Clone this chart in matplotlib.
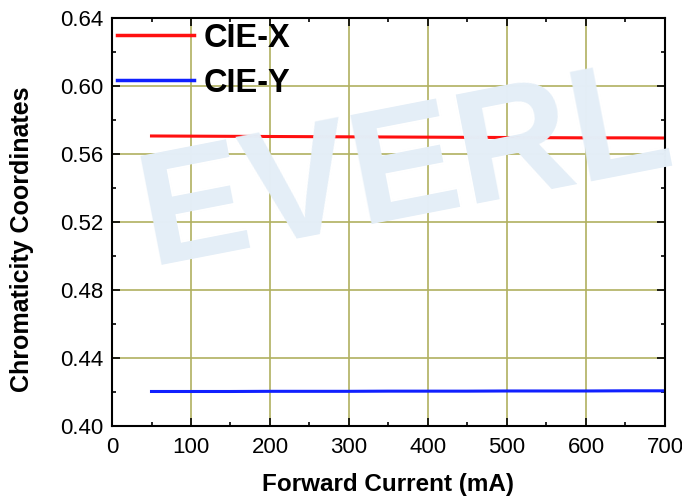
import matplotlib
matplotlib.use('Agg')
import matplotlib.pyplot as plt
from matplotlib.ticker import MultipleLocator

plt.rcParams['font.family'] = ['Liberation Sans', 'DejaVu Sans']

current = [50, 100, 150, 200, 250, 300, 350, 400, 450, 500, 550, 600, 650, 700]
cie_x = [0.5706, 0.5705, 0.5704, 0.5703, 0.5702, 0.5701, 0.5700, 0.5699, 0.5698, 0.5697, 0.5696, 0.5695, 0.5695, 0.5694]
cie_y = [0.4203, 0.4203, 0.4203, 0.4204, 0.4204, 0.4204, 0.4205, 0.4205, 0.4205, 0.4206, 0.4206, 0.4206, 0.4207, 0.4207]

fig = plt.figure(figsize=(6.82, 5), dpi=100)
ax = fig.add_axes([112 / 682, 74 / 500, 553 / 682, 408 / 500])

# watermark (cut by the right edge, like the original)
fig.text(150 / 682, 1 - 265 / 500, 'EVERL', fontsize=116, fontweight='bold', color='#e4eef7',
         rotation=11, rotation_mode='anchor', ha='left', va='baseline', zorder=0)
ax.set_facecolor('none')

ax.plot(current, cie_x, color='#ff1010', linewidth=2.2, label='CIE-X')
ax.plot(current, cie_y, color='#1020ff', linewidth=2.2, label='CIE-Y')

ax.set_xlim(0, 700)
ax.set_ylim(0.40, 0.64)
ax.xaxis.set_major_locator(MultipleLocator(100))
ax.xaxis.set_minor_locator(MultipleLocator(50))
ax.yaxis.set_major_locator(MultipleLocator(0.04))
ax.yaxis.set_minor_locator(MultipleLocator(0.02))
ax.yaxis.set_major_formatter(plt.FormatStrFormatter('%.2f'))

ax.grid(True, which='major', color='#b0b060', linewidth=1.2)
ax.tick_params(which='both', direction='in', top=True, right=True, labelsize=16, width=1.2)
ax.tick_params(which='major', length=6)
ax.tick_params(which='minor', length=3)
ax.tick_params(axis='x', pad=8)
ax.tick_params(axis='y', pad=6)
for s in ax.spines.values():
    s.set_linewidth(1.5)

ax.set_xlabel('Forward Current (mA)', fontsize=17.5, fontweight='bold', labelpad=11)
ax.set_ylabel('Chromaticity Coordinates', fontsize=18, fontweight='bold', labelpad=19)
ax.yaxis.label.set_y(0.458)

leg = ax.legend(loc='upper left', frameon=False, prop={'size': 23.5, 'weight': 'bold'},
                handlelength=2.35, borderaxespad=0.0, borderpad=0.15, labelspacing=0.42,
                handletextpad=0.3)
for line in leg.get_lines():
    line.set_linewidth(2.5)

fig.savefig('out.png', dpi=100)
